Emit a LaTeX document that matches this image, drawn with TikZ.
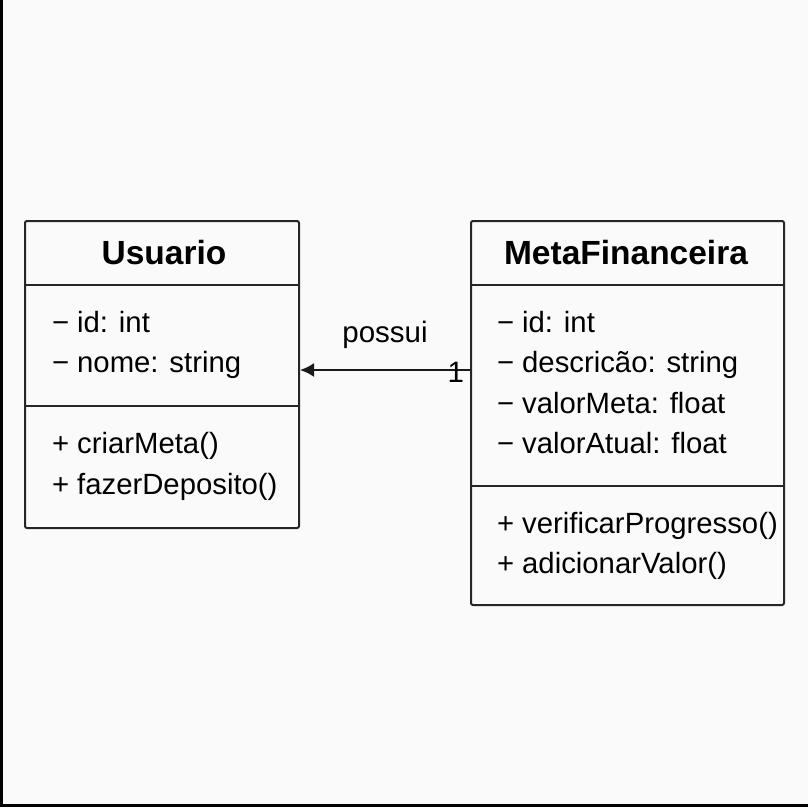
\documentclass[tikz,border=0pt]{standalone}
\usepackage{fontspec}
\setmainfont{Liberation Sans}
\usetikzlibrary{arrows.meta, positioning}

\newcommand{\vis}[1]{\makebox[25pt][l]{#1}}

\begin{document}
\begin{tikzpicture}[x = 1pt, y = -1pt,
  classbox/.style = {draw = black!85, line width = 2pt, rounded corners = 2pt, inner sep = 0pt},
  classname/.style = {anchor = base, inner sep = 0pt, font = \fontsize{33.5}{33.5}\selectfont\bfseries},
  member/.style = {anchor = base west, inner sep = 0pt, font = \fontsize{29.3}{29.3}\selectfont},
  divider/.style = {draw = black!85, line width = 2pt},
  assoc/.style = {draw = black!90, line width = 2pt, -{Latex[length = 14pt, width = 14pt]}},
  tag/.style = {inner sep = 0pt, font = \fontsize{29.5}{29.5}\selectfont}]
\fill[black!2] (0,0) rectangle (808,807);
\useasboundingbox (0,0) rectangle (808,807);
\draw[line width = 3pt] (1,0) -- (1,805.5) -- (808,805.5);

% Usuario
\node[classbox, minimum width = 274pt, minimum height = 307pt] (usuario) at (162,374.5) {};
\node[classname] (usuarioName) at (164,264) {Usuario};
\draw[divider] (25,285) -- (299,285);
\draw[divider] (25,406) -- (299,406);
\node[member] (u1) at (52,332) {\vis{−}id: int};
\node[member] (u2) at (52,372) {\vis{−}nome: string};
\node[member] (u3) at (52,453) {\vis{+}criarMeta()};
\node[member] (u4) at (52,494) {\vis{+}fazerDeposito()};

% MetaFinanceira
\node[classbox, minimum width = 313pt, minimum height = 384pt] (meta) at (627.5,413) {};
\node[classname] (metaName) at (626,264) {MetaFinanceira};
\draw[divider] (471,285) -- (784,285);
\draw[divider] (471,486) -- (784,486);
\node[member] (m1) at (497,332) {\vis{−}id: int};
\node[member] (m2) at (497,372) {\vis{−}descricão: string};
\node[member] (m3) at (497,413) {\vis{−}valorMeta: float};
\node[member] (m4) at (497,453) {\vis{−}valorAtual: float};
\node[member] (m5) at (497,533) {\vis{+}verificarProgresso()};
\node[member] (m6) at (497,573) {\vis{+}adicionarValor()};

% association
\coordinate (link) at (385,370);
\draw[assoc] (meta.west |- link) -- (usuario.east |- link)
  node[tag, pos = 0.5, anchor = base, yshift = 28pt] (possui) {possui}
  node[tag, pos = 0, anchor = base east, xshift = -5pt, yshift = -12pt] (mult) {1};
\end{tikzpicture}
\end{document}
